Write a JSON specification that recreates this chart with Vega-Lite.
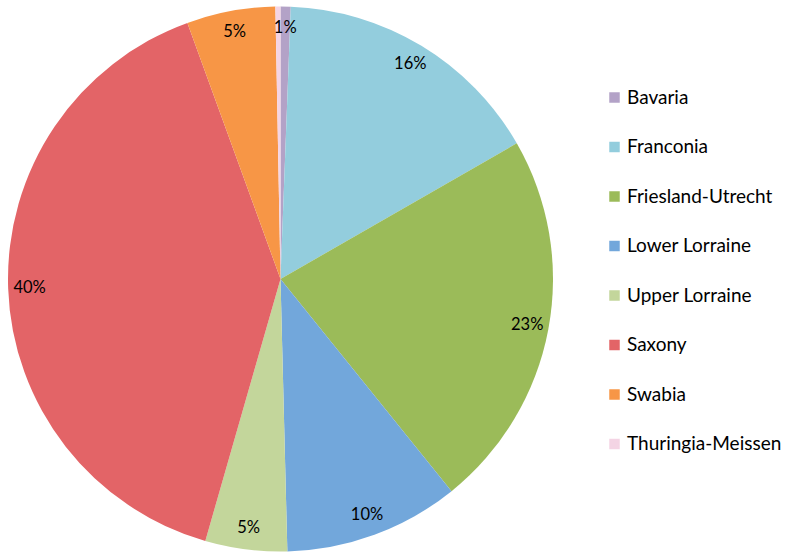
{
  "$schema": "https://vega.github.io/schema/vega-lite/v6.json",
  "width": 561,
  "height": 552,
  "autosize": "none",
  "padding": {"left": 0, "top": 3, "right": 231, "bottom": 0},
  "background": "white",
  "config": {"view": {"stroke": null}, "font": "Lato"},
  "data": {
    "values": [
      {"region": "Bavaria", "share": 0.006, "rank": 1},
      {"region": "Franconia", "share": 0.161, "rank": 2},
      {"region": "Friesland-Utrecht", "share": 0.225, "rank": 3},
      {"region": "Lower Lorraine", "share": 0.104, "rank": 4},
      {"region": "Upper Lorraine", "share": 0.0485, "rank": 5},
      {"region": "Saxony", "share": 0.400, "rank": 6},
      {"region": "Swabia", "share": 0.0525, "rank": 7},
      {"region": "Thuringia-Meissen", "share": 0.003, "rank": 8}
    ]
  },
  "encoding": {
    "theta": {"field": "share", "type": "quantitative", "stack": true},
    "order": {"field": "rank", "type": "quantitative", "sort": "ascending"}
  },
  "layer": [
    {
      "mark": {"type": "arc", "radius": 272.5},
      "encoding": {
        "color": {
          "field": "region",
          "type": "nominal",
          "scale": {
            "domain": ["Bavaria", "Franconia", "Friesland-Utrecht", "Lower Lorraine", "Upper Lorraine", "Saxony", "Swabia", "Thuringia-Meissen"],
            "range": ["#B3A2C7", "#93CDDD", "#9BBB59", "#72A7DB", "#C3D69B", "#E36467", "#F79646", "#F4D4E4"]
          },
          "legend": {
            "title": null,
            "orient": "none",
            "legendX": 605,
            "legendY": 85,
            "symbolType": "square",
            "symbolSize": 110,
            "symbolStrokeWidth": 0,
            "labelFontSize": 19,
            "labelFont": "Lato",
            "labelColor": "#000000",
            "labelOffset": 3,
            "rowPadding": 29.5,
            "labelLimit": 300
          }
        }
      }
    },
    {
      "transform": [{"filter": "datum.share >= 0.005"}],
      "mark": {"type": "text", "radius": 251, "fontSize": 16.5, "font": "Lato", "color": "#000000"},
      "encoding": {
        "text": {"field": "share", "type": "quantitative", "format": ".0%"}
      }
    }
  ]
}
